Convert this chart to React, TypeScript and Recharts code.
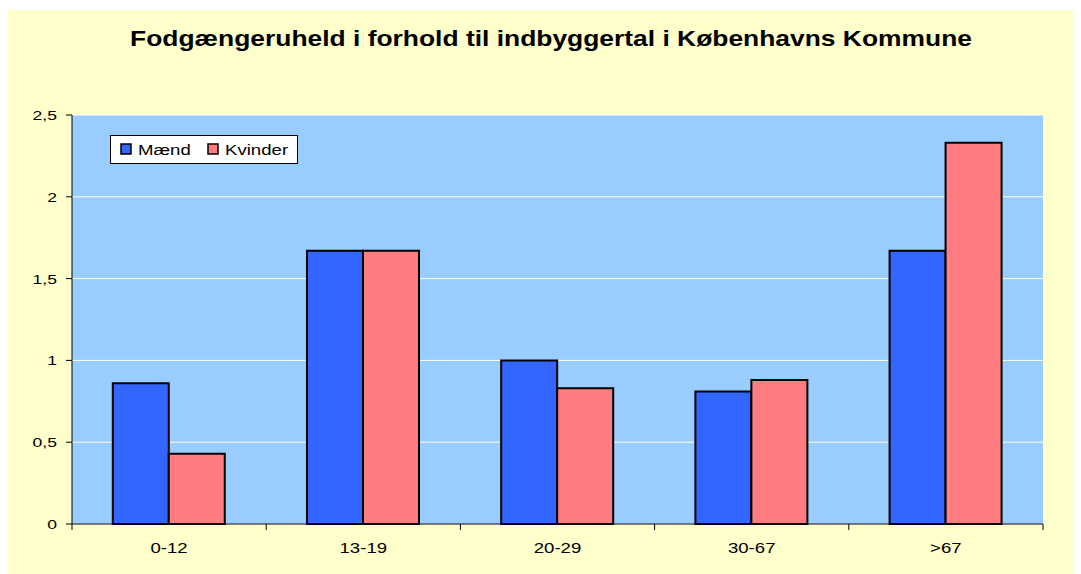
import React from "react";
import { BarChart, Bar, XAxis, YAxis, CartesianGrid } from "recharts";

const categories = ["0-12", "13-19", "20-29", "30-67", ">67"];
const maend = [0.86, 1.67, 1.0, 0.81, 1.67];
const kvinder = [0.43, 1.67, 0.83, 0.88, 2.33];
const yTicks = [0, 0.5, 1, 1.5, 2, 2.5];

const data = categories.map((cat, i) => ({ cat, maend: maend[i], kvinder: kvinder[i] }));

const W = 1073;
const H = 564;
const margin = { top: 105, right: 38, bottom: 20, left: 14 };
const yAxisW = 50;
const font = "'Liberation Sans', Arial, sans-serif";
const stretch = 1.33;

const plotW = W - margin.left - margin.right - yAxisW;
const band = plotW / categories.length;

// x labels, plus tick marks at the category borders
function XTick(props: any) {
  const { x, y, payload, index } = props;
  return (
    <g>
      {index === 0 && (
        <line x1={x - band / 2} x2={x - band / 2} y1={y - 8} y2={y - 2} stroke="#000" />
      )}
      <line x1={x + band / 2} x2={x + band / 2} y1={y - 8} y2={y - 2} stroke="#000" />
      <text
        transform={`translate(${x},${y + 21}) scale(${stretch},1)`}
        textAnchor="middle"
        fontSize={14}
        fontFamily={font}
        fill="#000"
      >
        {payload.value}
      </text>
    </g>
  );
}

function YTick(props: any) {
  const { x, y, payload } = props;
  return (
    <text
      transform={`translate(${x - 7},${y + 5}) scale(1.35,1)`}
      textAnchor="end"
      fontSize={13}
      fontFamily={font}
      fill="#000"
    >
      {String(payload.value).replace(".", ",")}
    </text>
  );
}

function LegendBox() {
  return (
    <svg
      width={188}
      height={29}
      style={{ position: "absolute", left: 102, top: 125 }}
    >
      <rect x={0.5} y={0.5} width={187} height={28} fill="#fff" stroke="#000" />
      <rect x={11} y={9} width={10} height={10} fill="#3366FF" stroke="#000" strokeWidth={1.5} />
      <text transform="translate(28,20) scale(1.33,1)" fontSize={14} fontFamily={font} fill="#000">
        Mænd
      </text>
      <rect x={98} y={9} width={10} height={10} fill="#FF7C80" stroke="#000" strokeWidth={1.5} />
      <text transform="translate(115,20) scale(1.33,1)" fontSize={14} fontFamily={font} fill="#000">
        Kvinder
      </text>
    </svg>
  );
}

export default function App() {
  return (
    <div
      style={{
        position: "relative",
        width: W,
        height: H,
        marginTop: 2,
        background: "#FFFFCC",
      }}
    >
      <div
        style={{
          position: "absolute",
          top: 16,
          left: 543,
          whiteSpace: "nowrap",
          transform: "translateX(-50%) scaleX(1.2)",
          fontFamily: font,
          fontWeight: "bold",
          fontSize: 22,
          color: "#000",
        }}
      >
        Fodgængeruheld i forhold til indbyggertal i Københavns Kommune
      </div>
      <BarChart
        width={W}
        height={H}
        data={data}
        margin={margin}
        barCategoryGap="21%"
        barGap={0}
      >
        <CartesianGrid vertical={false} stroke="#fff" fill="#99CCFF" />
        <XAxis
          dataKey="cat"
          tick={<XTick />}
          tickLine={false}
          axisLine={{ stroke: "#000" }}
          height={30}
          interval={0}
        />
        <XAxis
          dataKey="cat"
          xAxisId="top"
          orientation="top"
          tick={false}
          tickLine={false}
          axisLine={{ stroke: "#808080", strokeWidth: 2 }}
          height={0}
        />
        <YAxis
          domain={[0, 2.5]}
          ticks={yTicks}
          width={yAxisW}
          tick={<YTick />}
          tickLine={{ stroke: "#000" }}
          tickSize={6}
          axisLine={{ stroke: "#000" }}
          interval={0}
        />
        <YAxis
          yAxisId="right"
          orientation="right"
          domain={[0, 2.5]}
          tick={false}
          tickLine={false}
          axisLine={{ stroke: "#808080", strokeWidth: 2 }}
          width={0}
        />
        <Bar dataKey="maend" name="Mænd" fill="#3366FF" stroke="#000" strokeWidth={2} isAnimationActive={false} />
        <Bar dataKey="kvinder" name="Kvinder" fill="#FF7C80" stroke="#000" strokeWidth={2} isAnimationActive={false} />
      </BarChart>
      <LegendBox />
    </div>
  );
}
